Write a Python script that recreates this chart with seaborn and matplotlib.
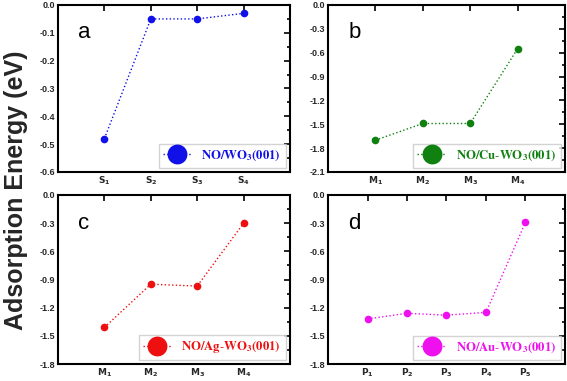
import numpy as np
import matplotlib
matplotlib.use('Agg')
import matplotlib.pyplot as plt
import seaborn as sns
import pandas as pd
from matplotlib.ticker import AutoMinorLocator, FuncFormatter

# ---- data ----
sites_a = ['S_1', 'S_2', 'S_3', 'S_4']
energy_a = [-0.48, -0.05, -0.05, -0.03]
sites_b = ['M_1', 'M_2', 'M_3', 'M_4']
energy_b = [-1.70, -1.49, -1.49, -0.55]
sites_c = ['M_1', 'M_2', 'M_3', 'M_4']
energy_c = [-1.41, -0.95, -0.97, -0.30]
sites_d = ['P_1', 'P_2', 'P_3', 'P_4', 'P_5']
energy_d = [-1.32, -1.26, -1.28, -1.25, -0.29]

labels = [r'$\mathbf{NO/WO_3(001)}$', r'$\mathbf{NO/Cu\text{-}WO_3(001)}$',
          r'$\mathbf{NO/Ag\text{-}WO_3(001)}$', r'$\mathbf{NO/Au\text{-}WO_3(001)}$']
colors = ['#1010e8', '#108010', '#ee1010', '#ee10ee']
letters = ['a', 'b', 'c', 'd']
ylims = [(-0.6, 0.0), (-2.1, 0.0), (-1.8, 0.0), (-1.8, 0.0)]
ysteps = [0.1, 0.3, 0.3, 0.3]

sns.set_theme(style="white")
plt.rcParams['font.family'] = ['Liberation Sans', 'DejaVu Sans']
plt.rcParams['mathtext.default'] = 'bf'

fig = plt.figure(figsize=(5.67, 3.81), dpi=100)
W, H = 567, 381
boxes = [(58, 5, 290, 172), (328, 5, 565, 172), (58, 195, 290, 364), (328, 195, 565, 364)]

fmt = FuncFormatter(lambda v, p: '%.1f' % (0.0 if abs(v) < 1e-9 else v))

panels = [(sites_a, energy_a), (sites_b, energy_b), (sites_c, energy_c), (sites_d, energy_d)]
for i, ((sites, energy), box) in enumerate(zip(panels, boxes)):
    x0, y0, x1, y1 = box
    ax = fig.add_axes([x0 / W, 1 - y1 / H, (x1 - x0) / W, (y1 - y0) / H])
    df = pd.DataFrame({'pos': np.arange(1, len(sites) + 1), 'E': energy})
    sns.lineplot(data=df, x='pos', y='E', ax=ax, color=colors[i], marker='o',
                 markersize=5.5, markeredgewidth=0, linestyle=':', linewidth=1.0,
                 label=labels[i])
    ax.set_xlim(0, len(sites) + 1)
    ax.set_ylim(*ylims[i])
    ax.set_xticks(df['pos'])
    ax.set_xticklabels(['$\\mathbf{%s}$' % s for s in sites])
    ax.set_yticks(np.round(np.arange(ylims[i][0], ylims[i][1] + 1e-9, ysteps[i]), 2))
    ax.yaxis.set_minor_locator(AutoMinorLocator(2))
    ax.yaxis.set_major_formatter(fmt)
    ax.tick_params(axis='both', which='both', direction='in', top=True, right=True,
                   labelsize=6.5, width=1.2, color='black', pad=2)
    ax.tick_params(which='major', length=4)
    ax.tick_params(which='minor', length=2)
    for lab in ax.get_yticklabels():
        lab.set_fontweight('bold')
    for sp in ax.spines.values():
        sp.set_color('black')
        sp.set_linewidth(1.5)
    ax.set_xlabel('')
    ax.set_ylabel('')
    ax.text(0.085, 0.80, letters[i], transform=ax.transAxes, fontsize=16, color='black')
    leg = ax.legend(loc='lower right', markerscale=2.6, handlelength=2.2,
                    frameon=True, fancybox=False, borderpad=0.35, borderaxespad=0.35,
                    prop={'size': 9.2})
    leg.get_frame().set_edgecolor('#c8c8c8')
    leg.get_frame().set_linewidth(1.0)
    for t in leg.get_texts():
        t.set_color(colors[i])
        t.set_math_fontfamily('stix')

fig.text(0.028, 0.5, 'Adsorption Energy (eV)', rotation=90, va='center', ha='center',
         fontsize=18, fontweight='bold')

fig.savefig('out.png', dpi=100)
